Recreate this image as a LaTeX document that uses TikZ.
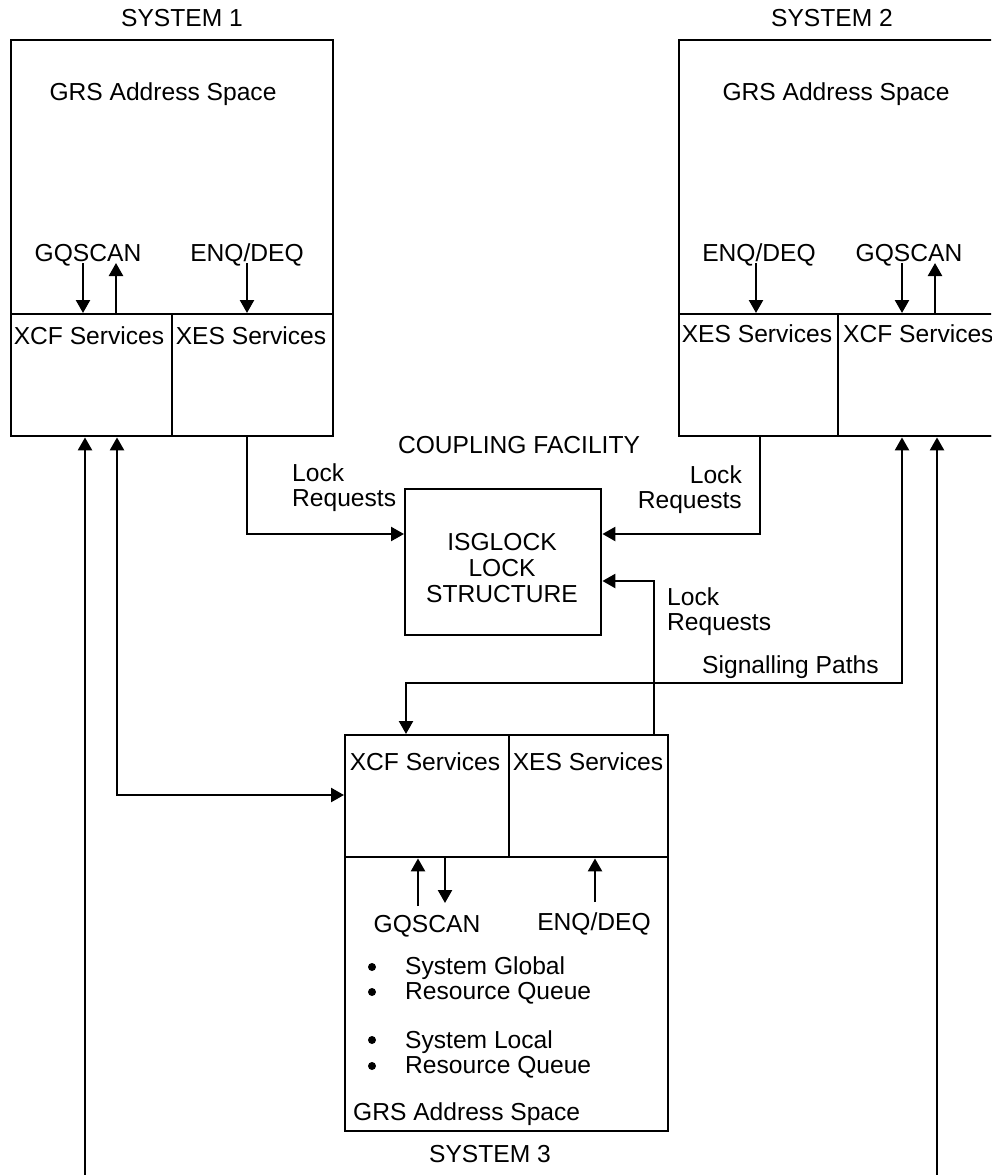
\documentclass[tikz,border=0pt]{standalone}
\usepackage{fontspec}
\setmainfont{Liberation Sans}
\usetikzlibrary{arrows.meta,calc}
\begin{document}
\begin{tikzpicture}[x=1pt,y=-1pt,
  box/.style={draw,line width=2.4pt,inner sep=0pt,anchor=north west},
  lbl/.style={inner sep=0pt,anchor=base,font=\fontsize{24.6}{25}\selectfont},
  lbll/.style={lbl,anchor=base west},
  lblr/.style={lbl,anchor=base east},
  tip/.tip={Triangle[length=13pt,width=14pt]},
  arr/.style={line width=2.4pt,-tip},
  darr/.style={line width=2.4pt,tip-tip},
  bul/.style={circle,fill,inner sep=0pt,minimum size=8pt}]
\useasboundingbox (0,0) rectangle (991,1175);
\clip (0,0) rectangle (991,1175);

% ---------- SYSTEM 1 ----------
\node[box,minimum width=322pt,minimum height=396pt] (s1) at (10,39) {};
\node[box,minimum width=161pt,minimum height=122pt] (xcf1) at (10,313) {};
\node[box,minimum width=161pt,minimum height=122pt] (xes1) at (171,313) {};
\node[lbl] (t1) at (182,27) {SYSTEM 1};
\node[lbl] (grs1) at (163,100) {GRS Address Space};
\node[lbl] (gq1) at (88,261) {GQSCAN};
\node[lbl] (enq1) at (247,261) {ENQ/DEQ};
\node[lbl] (xcf1t) at (89,344) {XCF Services};
\node[lbl] (xes1t) at (251,344) {XES Services};
\coordinate (g1d) at (83,263);
\coordinate (g1u) at (116,263);
\coordinate (e1d) at (247,263);
\draw[arr] (g1d) -- (g1d |- xcf1.north);
\draw[arr] (g1u |- xcf1.north) -- (g1u);
\draw[arr] (e1d) -- (e1d |- xes1.north);

% ---------- SYSTEM 2 ----------
\node[box,minimum width=330pt,minimum height=396pt] (s2) at (678,39) {};
\node[box,minimum width=159pt,minimum height=122pt] (xes2) at (678,313) {};
\node[box,minimum width=171pt,minimum height=122pt] (xcf2) at (837,313) {};
\node[lbl] (t2) at (832,27) {SYSTEM 2};
\node[lbl] (grs2) at (836,100) {GRS Address Space};
\node[lbl] (enq2) at (759,261) {ENQ/DEQ};
\node[lbl] (gq2) at (909,261) {GQSCAN};
\node[lbl] (xes2t) at (757,342) {XES Services};
\node[lbll] (xcf2t) at (843,342) {XCF Services};
\coordinate (e2d) at (756,263);
\coordinate (g2d) at (902,263);
\coordinate (g2u) at (935,263);
\draw[arr] (e2d) -- (e2d |- xes2.north);
\draw[arr] (g2d) -- (g2d |- xcf2.north);
\draw[arr] (g2u |- xcf2.north) -- (g2u);

% ---------- COUPLING FACILITY ----------
\node[lbl] (cf) at (519,453) {COUPLING FACILITY};
\node[box,minimum width=196pt,minimum height=146pt] (lock) at (404,488) {};
\node[lbl] (lk1) at (502,550) {ISGLOCK};
\node[lbl] (lk2) at (502,576) {LOCK};
\node[lbl] (lk3) at (502,602) {STRUCTURE};

% Lock requests from system 1
\coordinate (lr1) at (247,534);
\draw[arr] (lr1 |- xes1.south) -- (lr1) -- (lr1 -| lock.west);
\node[lbll] (lr1a) at (292,481) {Lock};
\node[lbll] (lr1b) at (292,506) {Requests};

% Lock requests from system 2
\coordinate (lr2) at (760,534);
\draw[arr] (lr2 |- xes2.south) -- (lr2) -- (lr2 -| lock.east);
\node[lblr] (lr2a) at (742,483) {Lock};
\node[lblr] (lr2b) at (742,508) {Requests};

% ---------- SYSTEM 3 ----------
\node[box,minimum width=323pt,minimum height=396pt] (s3) at (344,734) {};
\node[box,minimum width=164pt,minimum height=122pt] (xcf3) at (344,734) {};
\node[box,minimum width=159pt,minimum height=122pt] (xes3) at (508,734) {};
\node[lbl] (xcf3t) at (425,770) {XCF Services};
\node[lbl] (xes3t) at (588,770) {XES Services};
\node[lbl] (gq3) at (427,932) {GQSCAN};
\node[lbl] (enq3) at (594,930) {ENQ/DEQ};
\coordinate (g3u) at (418,906);
\coordinate (g3d) at (445,903);
\coordinate (e3u) at (595,902);
\draw[arr] (g3u) -- (g3u |- xcf3.south);
\draw[arr] (g3d |- xcf3.south) -- (g3d);
\draw[arr] (e3u) -- (e3u |- xes3.south);
\node[bul] (b1) at (372,967) {};
\node[bul] (b2) at (372,992) {};
\node[bul] (b3) at (372,1040) {};
\node[bul] (b4) at (372,1066) {};
\node[lbll] (q1) at (405,974) {System Global};
\node[lbll] (q2) at (405,999) {Resource Queue};
\node[lbll] (q3) at (405,1048) {System Local};
\node[lbll] (q4) at (405,1073) {Resource Queue};
\node[lbll] (grs3) at (353,1120) {GRS Address Space};
\node[lbl] (t3) at (490,1162) {SYSTEM 3};

% Lock requests from system 3
\coordinate (lr3) at (654,581);
\draw[arr] (lr3 |- xes3.north) -- (lr3) -- (lr3 -| lock.east);
\node[lbll] (lr3a) at (667,605) {Lock};
\node[lbll] (lr3b) at (667,630) {Requests};

% ---------- Signalling paths ----------
\coordinate (sp1) at (902,683);
\coordinate (sp2) at (406,683);
\draw[darr] (sp1 |- xcf2.south) -- (sp1) -- (sp2) -- (sp2 |- xcf3.north);
\node[lbll] (spt) at (702,673) {Signalling Paths};

\coordinate (a1) at (117,795);
\draw[darr] (a1 |- xcf1.south) -- (a1) -- (a1 -| xcf3.west);

\coordinate (v1) at (85,1180);
\draw[arr] (v1) -- (v1 |- xcf1.south);
\coordinate (v2) at (937,1180);
\draw[arr] (v2) -- (v2 |- xcf2.south);
\end{tikzpicture}
\end{document}
